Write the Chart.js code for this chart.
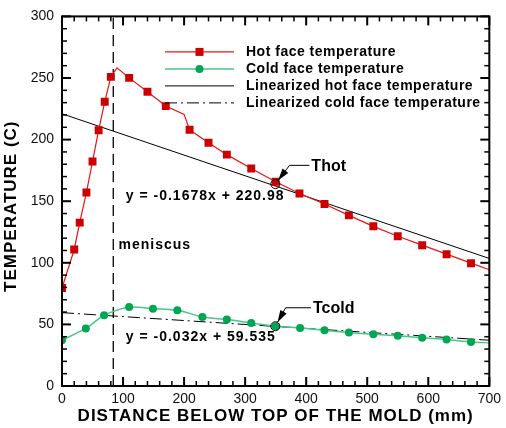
<!DOCTYPE html>
<html>
<head>
<meta charset="utf-8">
<script src="https://cdn.jsdelivr.net/npm/chart.js@4/dist/chart.umd.min.js"></script>
<style>
  html, body { margin: 0; padding: 0; background: #fff; }
  #wrap { width: 506px; height: 428px; }
</style>
</head>
<body>
<div id="wrap"><canvas id="c" width="506" height="428"></canvas></div>
<script>
// Mold temperature profiles: distance below top of the mold (mm) vs temperature (C)
const hotX = [0, 20, 29, 40, 50, 60, 70, 80, 90, 110, 140, 170, 200, 209, 240, 270, 310, 350, 389, 430, 470, 510, 550, 590, 630, 670, 700];
const hotT = [79.5, 110.8, 132.6, 157.1, 182.2, 207.6, 230.7, 250.9, 258.2, 250.1, 238.8, 227.2, 220.5, 208, 197.5, 187.8, 176.5, 165.8, 156.3, 147.7, 138.5, 129.6, 121.5, 114.3, 107, 99.7, 94.4];
const hotMarked = [1, 1, 1, 1, 1, 1, 1, 1, 0, 1, 1, 1, 0, 1, 1, 1, 1, 1, 1, 1, 1, 1, 1, 1, 1, 1, 0];

const coldX = [0, 39, 69, 110, 149, 189, 200, 230, 270, 310, 350, 390, 430, 470, 510, 550, 590, 630, 670, 700];
const coldT = [37.2, 46.7, 57.4, 64.1, 62.8, 61.5, 60.3, 56, 53.9, 51.2, 48.5, 47.1, 45.3, 43.4, 42, 40.7, 39.1, 37.8, 35.8, 35];
const coldMarked = [1, 1, 1, 1, 1, 1, 0, 1, 1, 1, 1, 1, 1, 1, 1, 1, 1, 1, 1, 0];

// Linear fits as printed on the chart: y = slope * x + intercept
const hotFit = { slope: -0.1678, intercept: 220.98 };
const coldFit = { slope: -0.032, intercept: 59.535 };
const fitRange = [0, 700];

const meniscusX = 84;

const xTicks = { min: 0, max: 700, major: 100, minor: 20 };
const yTicks = { min: 0, max: 300, major: 50, minor: 10 };

const seriesNames = ['Hot face temperature', 'Cold face temperature', 'Linearized hot face temperature', 'Linearized cold face temperature'];
const xTitle = 'DISTANCE BELOW TOP OF THE MOLD (mm)';
const yTitle = 'TEMPERATURE (C)';

// Text notes placed in data units (left edge, baseline)
const notes = [
  { text: 'meniscus', x: 92.5, y: 111.3 },
  { text: 'y = -0.1678x + 220.98', x: 104.5, y: 151 },
  { text: 'y = -0.032x + 59.535', x: 104.5, y: 36.6 }
];
// Callouts: circled point, label, and knee of the leader arrow (data units)
const callouts = [
  { text: 'Thot', at: [349.5, 163.9], label: [408.5, 174.2], knee: [372.7, 179.1] },
  { text: 'Tcold', at: [349.5, 48.5], label: [411.2, 59.6], knee: [366.3, 63.5] }
];

const FONT = "'Liberation Sans', Arial, Helvetica, sans-serif";
const HOT_LINE = '#e81414', HOT_MARK = '#cc0000';
const COLD_LINE = '#45c887', COLD_MARK = '#00a651';
const TICK_COLOR = '#000';

const pts = (xs, ys) => xs.map((v, i) => ({ x: v, y: ys[i] }));
const fitPts = f => fitRange.map(v => ({ x: v, y: f.slope * v + f.intercept }));

const datasets = [
  {
    label: seriesNames[0], data: pts(hotX, hotT),
    borderColor: HOT_LINE, borderWidth: 1.2, tension: 0,
    pointStyle: 'rect', pointRadius: hotMarked.map(m => m ? 5.6 : 0),
    pointBackgroundColor: HOT_MARK, pointBorderWidth: 0, order: 1
  },
  {
    label: seriesNames[1], data: pts(coldX, coldT),
    borderColor: COLD_LINE, borderWidth: 1.5, tension: 0.25,
    pointStyle: 'circle', pointRadius: coldMarked.map(m => m ? 4 : 0),
    pointBackgroundColor: COLD_MARK, pointBorderWidth: 0, order: 2
  },
  {
    label: seriesNames[2], data: fitPts(hotFit),
    borderColor: '#000', borderWidth: 1, pointRadius: 0, order: 3
  },
  {
    label: seriesNames[3], data: fitPts(coldFit),
    borderColor: '#000', borderWidth: 1, borderDash: [12, 4, 2, 4], pointRadius: 0, order: 4
  },
  {
    label: 'meniscus', data: [{ x: meniscusX, y: yTicks.min }, { x: meniscusX, y: yTicks.max }],
    borderColor: '#000', borderWidth: 1.3, borderDash: [11, 6], pointRadius: 0, order: 5
  }
];

// Inward minor/major ticks on all four sides plus the plot frame
const frameTicks = {
  id: 'frameTicks',
  afterDraw(chart) {
    const { ctx, chartArea: a, scales } = chart;
    const sx = scales.x, sy = scales.y;
    ctx.save();
    ctx.fillStyle = TICK_COLOR;
    for (let v = xTicks.min; v <= xTicks.max; v += xTicks.minor) {
      const px = sx.getPixelForValue(v);
      const major = (v % xTicks.major) === 0;
      const L = major ? 9 : 5, w = major ? 2 : 1.5;
      ctx.fillRect(px - w / 2, a.bottom - L, w, L);
      ctx.fillRect(px - w / 2, a.top, w, L);
    }
    for (let v = yTicks.min; v <= yTicks.max; v += yTicks.minor) {
      const py = sy.getPixelForValue(v);
      const major = (v % yTicks.major) === 0;
      const L = major ? 9 : 5, w = major ? 2 : 1.5;
      ctx.fillRect(a.left, py - w / 2, L, w);
      ctx.fillRect(a.right - L, py - w / 2, L, w);
    }
    ctx.lineWidth = 2;
    ctx.strokeStyle = '#000';
    ctx.setLineDash([]);
    ctx.strokeRect(a.left, a.top, a.right - a.left, a.bottom - a.top);
    ctx.restore();
  }
};

const decor = {
  id: 'decor',
  afterDraw(chart) {
    const { ctx, chartArea: a, scales } = chart;
    const sx = scales.x, sy = scales.y;
    ctx.save();
    ctx.setLineDash([]);
    ctx.strokeStyle = '#000';
    ctx.fillStyle = '#000';

    // axis titles
    ctx.font = 'bold 17px ' + FONT;
    ctx.letterSpacing = '1px';
    ctx.textAlign = 'center';
    ctx.textBaseline = 'alphabetic';
    ctx.fillText(xTitle, (a.left + a.right) / 2, 421);
    ctx.save();
    ctx.translate(16, (a.top + a.bottom) / 2 + 5);
    ctx.rotate(-Math.PI / 2);
    ctx.fillText(yTitle, 0, 0);
    ctx.restore();

    // legend
    const lx0 = a.left + 103, lx1 = a.left + 172, tx = a.left + 184;
    let ly = a.top + 35.5;
    ctx.font = 'bold 14px ' + FONT;
    ctx.letterSpacing = '0.5px';
    ctx.textAlign = 'left';
    ctx.textBaseline = 'middle';
    chart.data.datasets.slice(0, 4).forEach((ds, i) => {
      ctx.save();
      ctx.strokeStyle = ds.borderColor;
      ctx.lineWidth = ds.borderWidth;
      ctx.setLineDash(ds.borderDash || []);
      ctx.beginPath(); ctx.moveTo(lx0, ly); ctx.lineTo(lx1, ly); ctx.stroke();
      ctx.restore();
      if (i === 0) {
        ctx.fillStyle = HOT_MARK;
        ctx.fillRect((lx0 + lx1) / 2 - 4, ly - 4, 8, 8);
      } else if (i === 1) {
        ctx.fillStyle = COLD_MARK;
        ctx.beginPath(); ctx.arc((lx0 + lx1) / 2, ly, 4, 0, Math.PI * 2); ctx.fill();
      }
      ctx.fillStyle = '#000';
      ctx.fillText(ds.label, tx, ly);
      ly += 17;
    });

    // notes
    ctx.font = 'bold 14px ' + FONT;
    ctx.letterSpacing = '1px';
    ctx.textBaseline = 'alphabetic';
    notes.forEach(n => ctx.fillText(n.text, sx.getPixelForValue(n.x), sy.getPixelForValue(n.y)));

    // callouts
    ctx.font = 'bold 16px ' + FONT;
    ctx.letterSpacing = '0px';
    callouts.forEach(c => {
      const cx = sx.getPixelForValue(c.at[0]), cy = sy.getPixelForValue(c.at[1]);
      const tx0 = sx.getPixelForValue(c.label[0]), ty0 = sy.getPixelForValue(c.label[1]);
      const kx = sx.getPixelForValue(c.knee[0]), ky = sy.getPixelForValue(c.knee[1]);
      ctx.fillText(c.text, tx0, ty0);
      ctx.lineWidth = 1;
      ctx.beginPath(); ctx.arc(cx, cy, 4.5, 0, Math.PI * 2); ctx.stroke();
      const ang = Math.atan2(cy - ky, cx - kx);
      const tipX = cx - Math.cos(ang) * 4.7, tipY = cy - Math.sin(ang) * 4.7;
      ctx.beginPath(); ctx.moveTo(tx0 - 2, ky); ctx.lineTo(kx, ky); ctx.lineTo(tipX, tipY); ctx.stroke();
      const hl = 12, hw = 3.6;
      const bx = tipX - Math.cos(ang) * hl, by = tipY - Math.sin(ang) * hl;
      ctx.beginPath();
      ctx.moveTo(tipX, tipY);
      ctx.lineTo(bx + Math.sin(ang) * hw, by - Math.cos(ang) * hw);
      ctx.lineTo(bx - Math.sin(ang) * hw, by + Math.cos(ang) * hw);
      ctx.closePath(); ctx.fill();
    });
    ctx.restore();
  }
};

new Chart(document.getElementById('c'), {
  type: 'line',
  data: { datasets },
  plugins: [frameTicks, decor],
  options: {
    responsive: false,
    animation: false,
    devicePixelRatio: 1,
    layout: { padding: { top: 15, right: 12, left: 0, bottom: 0 } },
    plugins: { legend: { display: false }, tooltip: { enabled: false } },
    elements: { line: { fill: false } },
    scales: {
      x: {
        type: 'linear', min: xTicks.min, max: xTicks.max,
        grid: { display: false, drawTicks: false }, border: { display: false },
        ticks: { stepSize: xTicks.major, padding: 5, color: '#111', font: { family: FONT, size: 14 } },
        afterFit: s => { s.height = 42; }
      },
      y: {
        type: 'linear', min: yTicks.min, max: yTicks.max,
        grid: { display: false, drawTicks: false }, border: { display: false },
        ticks: { stepSize: yTicks.major, padding: 8, color: '#111', font: { family: FONT, size: 14 } },
        afterFit: s => { s.width = 62; }
      }
    }
  }
});
</script>
</body>
</html>
